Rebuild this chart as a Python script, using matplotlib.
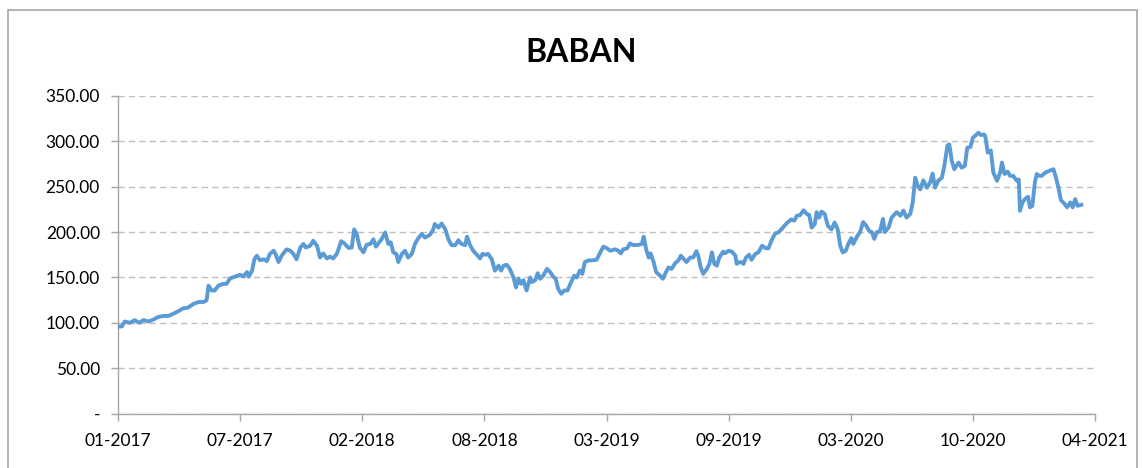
import datetime as dt

import matplotlib

matplotlib.use("Agg")
import matplotlib.dates as mdates
from matplotlib import pyplot as plt
from matplotlib.patches import Rectangle
from matplotlib.ticker import FuncFormatter

plt.rcParams["font.family"] = ["Lato", "DejaVu Sans"]

TITLE = "BABAN"
START = dt.date(2017, 1, 1)

# Trading days (offset in days from START) and closing values.
day_offsets = [
    2, 8, 13, 21, 29, 36, 43, 51, 59, 67, 75, 83, 91, 99, 107, 115, 124, 132, 140, 145,
    148, 153, 158, 164, 172, 177, 183,
    191, 199, 204, 210, 213, 218, 222, 226, 231, 237, 242, 247, 253, 256, 261, 266, 274,
    280, 285, 290, 296, 301, 305, 312, 317, 323, 328, 333, 339, 344, 349, 355, 362, 368,
    374, 379, 383, 387,
    392, 398, 403, 409, 414, 418, 422, 427, 433, 438, 442, 446, 451, 454, 460, 465, 470,
    476, 481, 487, 492, 497, 505, 510, 513, 519, 524, 530, 535, 540, 546, 551, 556, 562,
    565, 570, 575, 581, 586, 590,
    594, 599, 605, 610, 616, 620, 624, 629, 634, 640, 644, 648, 652, 656, 661, 667, 670,
    675, 679, 683, 688, 694, 699, 704, 708, 712, 717, 722, 727, 733, 738, 742, 747, 751,
    755, 761, 766, 774, 780, 785, 790,
    796, 804, 809, 813, 817, 823, 828, 833, 842, 847, 850, 854, 858, 861, 866, 870, 875,
    881, 886, 890, 895, 901, 906, 910, 915, 919, 925, 930, 935, 938, 942, 946, 952, 956,
    960, 964, 968, 972, 978, 981, 987, 992,
    998, 1000, 1004, 1008, 1011, 1015, 1020, 1024, 1030, 1035, 1041, 1046, 1051, 1057,
    1062, 1067, 1072, 1077, 1082, 1088, 1093, 1097, 1102, 1108, 1113, 1117, 1121, 1126,
    1129, 1133, 1137, 1142, 1147, 1153, 1158, 1163, 1167, 1171, 1176, 1180, 1185, 1188,
    1194,
    1199, 1204, 1209, 1214, 1218, 1222, 1226, 1231, 1236, 1239, 1245, 1250, 1258, 1264,
    1269, 1274, 1280, 1284, 1288, 1292, 1296, 1301, 1307, 1312, 1316, 1320, 1325, 1331,
    1335, 1340, 1343, 1347, 1351, 1358, 1363, 1368, 1372, 1377, 1381, 1386, 1390, 1394,
    1399,
    1401, 1405, 1410, 1414, 1420, 1425, 1428, 1432, 1437, 1441, 1446, 1452, 1455, 1457,
    1461, 1465, 1470, 1473, 1477, 1481, 1484, 1488, 1492, 1498, 1506, 1511, 1515, 1519,
    1523, 1529, 1533, 1538, 1542, 1546, 1550, 1556,
]
values = [
    96, 96, 101.5, 100, 103, 100, 103, 101.5, 103.6, 106.5, 107.6, 107.6, 110, 112.7, 116,
    116.8, 121, 123, 123, 125,
    141, 135.7, 135.7, 141, 143, 143, 149,
    151, 153, 151, 156, 151, 157, 170, 174, 169, 170, 168, 176, 179.5, 176, 167, 174, 181,
    179.5, 176, 170, 183, 187, 183, 185, 190.5, 185, 172, 176.5, 171, 173, 171, 176, 190,
    187, 182.5, 183, 203, 198,
    183, 177.7, 186, 187, 192, 184, 187.6, 192, 199.6, 187, 188.7, 177.7, 176, 167, 176,
    179.5, 172, 176, 187, 194, 198, 194, 197, 202, 209, 205, 209.5, 203, 192, 185.6,
    185.6, 191, 187, 185.6, 195, 185.6, 179.5, 175, 171, 176,
    175, 176, 170, 157.6, 163, 157.6, 163, 164, 159.5, 150, 139, 148.6, 143, 147, 135.7,
    150, 145, 147, 154.7, 148.6, 152, 159.5, 156, 151, 148.6, 137.5, 132, 135.7, 135.7,
    145, 152, 150, 157.6, 154, 167, 168.8, 168.8, 169.5, 177.7, 184, 182.5,
    179.5, 181, 179.5, 176.6, 181, 182, 187.6, 185.6, 186, 187, 195, 181, 172, 176.6, 167,
    156, 153, 148.6, 156, 161, 159.5, 166, 168.8, 174, 170, 167, 172, 172, 179, 174, 161,
    154, 159.5, 165, 177.7, 165, 163, 172, 178.5, 176.6, 179.5, 178.5,
    174, 165, 166.8, 166.8, 165, 172, 175, 169.5, 176, 177.7, 185, 182.5, 182, 192, 198.5,
    199.6, 203, 207, 210.6, 214, 212.6, 218, 218.6, 224, 220, 219, 205, 209, 222, 216,
    222.6, 220, 207, 203, 210.6, 203, 185, 177.7, 179.5, 187, 193.4, 187, 195,
    200, 211, 207, 201, 200, 192.5, 200, 200.6, 214.5, 200, 205, 216, 222, 218, 223.6,
    216, 220, 232.7, 260, 251, 247, 257, 249, 254.7, 264.5, 249, 256.5, 260, 273, 295.6,
    296.7, 278.4, 269.3, 276.6, 271, 273, 293, 293.8, 304, 307, 309.5, 307, 307.7,
    305.8, 287.6, 290, 265.6, 256.5, 265.6, 276.6, 264, 266.7, 262, 262, 256.5, 258,
    223.6, 232.7, 236.4, 239, 227.3, 229, 254.7, 264, 262, 262, 265.6, 268, 269.3, 260,
    249, 235.3, 231, 227.3, 232.7, 227.3, 236.4, 229, 230,
]

y_ticks = [0, 50, 100, 150, 200, 250, 300, 350]
tick_step_days = 197
n_x_ticks = 9

dates = [START + dt.timedelta(days=d) for d in day_offsets]
x_ticks = [dates[0] + dt.timedelta(days=tick_step_days * i) for i in range(n_x_ticks)]

W, H = 1142, 468
fig = plt.figure(figsize=(W / 100, H / 100), dpi=100)
ax = fig.add_axes([118 / W, 1 - 413.6 / H, (1095 - 118) / W, (413.6 - 96) / H])

ax.plot(dates, values, color="#5B9BD5", lw=2.8, solid_joinstyle="round", zorder=3)

ax.set_xlim(x_ticks[0], x_ticks[-1])
ax.set_ylim(0, 350)
ax.set_yticks(y_ticks)
ax.set_xticks(x_ticks)
ax.xaxis.set_major_formatter(mdates.DateFormatter("%m-%Y"))
ax.yaxis.set_major_formatter(FuncFormatter(lambda v, _: "-" if v == 0 else f"{v:.2f}"))

ax.grid(axis="y", color="#BFBFBF", ls=(0, (4.5, 3)), lw=1.0)
ax.set_axisbelow(True)
for side in ("top", "right"):
    ax.spines[side].set_visible(False)
for side in ("left", "bottom"):
    ax.spines[side].set_color("#A6A6A6")
    ax.spines[side].set_linewidth(1.0)
ax.tick_params(axis="both", colors="#A6A6A6", length=5, width=1.0,
               labelcolor="black", labelsize=12.5)
ax.tick_params(axis="y", pad=8)
ax.tick_params(axis="x", pad=9)

fig.text(581 / W, 1 - 53 / H, TITLE, ha="center", va="center",
         fontsize=23, fontweight="bold")

# chart-area border
fig.patches.append(Rectangle((8 / W, -0.05), (1137 - 8) / W, 1.05 - 10 / H,
                             transform=fig.transFigure, fill=False,
                             edgecolor="#A6A6A6", lw=1.2))

fig.savefig("out.png", dpi=100)
